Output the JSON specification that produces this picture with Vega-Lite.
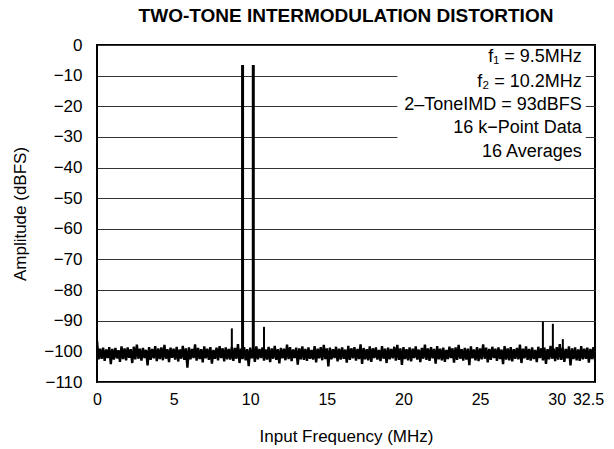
{
  "$schema": "https://vega.github.io/schema/vega-lite/v6.json",
  "width": 498,
  "height": 337,
  "autosize": {"type": "none"},
  "padding": {"left": 97, "top": 45, "right": 19, "bottom": 67},
  "background": "white",
  "config": {
    "font": "Liberation Sans",
    "view": {"stroke": "black", "strokeWidth": 2},
    "axis": {"domain": false, "ticks": false, "tickSize": 0, "labelColor": "black", "titleColor": "black", "labelFont": "Liberation Sans", "titleFont": "Liberation Sans", "titleFontWeight": "normal", "labelOverlap": false}
  },
  "title": {"text": "TWO-TONE INTERMODULATION DISTORTION", "fontSize": 19, "fontWeight": "bold", "font": "Liberation Sans", "color": "black", "anchor": "middle", "offset": 10},
  "datasets": {
    "noise": [
      {"f":0.0,"a":-96.5},{"f":0.1,"a":-102.6},{"f":0.2,"a":-99.1},{"f":0.3,"a":-102.4},{"f":0.4,"a":-98.8},{"f":0.5,"a":-103.1},{"f":0.6,"a":-99.4},{"f":0.7,"a":-102.2},{"f":0.8,"a":-98.6},{"f":0.9,"a":-104.2},
      {"f":1.0,"a":-99.2},{"f":1.1,"a":-102.7},{"f":1.2,"a":-98.9},{"f":1.3,"a":-102.3},{"f":1.4,"a":-99.6},{"f":1.5,"a":-103.4},{"f":1.6,"a":-98.4},{"f":1.7,"a":-102.5},{"f":1.8,"a":-99.0},{"f":1.9,"a":-102.9},
      {"f":2.0,"a":-98.7},{"f":2.1,"a":-102.1},{"f":2.2,"a":-99.3},{"f":2.3,"a":-103.8},{"f":2.4,"a":-98.5},{"f":2.5,"a":-102.6},{"f":2.6,"a":-97.8},{"f":2.7,"a":-102.4},{"f":2.8,"a":-99.1},{"f":2.9,"a":-103.0},
      {"f":3.0,"a":-98.9},{"f":3.1,"a":-102.2},{"f":3.2,"a":-99.5},{"f":3.3,"a":-104.6},{"f":3.4,"a":-98.6},{"f":3.5,"a":-102.8},{"f":3.6,"a":-99.2},{"f":3.7,"a":-102.3},{"f":3.8,"a":-98.3},{"f":3.9,"a":-103.2},
      {"f":4.0,"a":-99.0},{"f":4.1,"a":-102.5},{"f":4.2,"a":-98.7},{"f":4.3,"a":-102.9},{"f":4.4,"a":-97.9},{"f":4.5,"a":-102.4},{"f":4.6,"a":-99.3},{"f":4.7,"a":-103.5},{"f":4.8,"a":-98.8},{"f":4.9,"a":-102.1},
      {"f":5.0,"a":-99.1},{"f":5.1,"a":-102.7},{"f":5.2,"a":-98.5},{"f":5.3,"a":-103.3},{"f":5.4,"a":-99.4},{"f":5.5,"a":-102.4},{"f":5.6,"a":-98.2},{"f":5.7,"a":-102.8},{"f":5.8,"a":-99.0},{"f":5.9,"a":-105.3},
      {"f":6.0,"a":-98.7},{"f":6.1,"a":-102.6},{"f":6.2,"a":-99.2},{"f":6.3,"a":-102.2},{"f":6.4,"a":-97.7},{"f":6.5,"a":-103.0},{"f":6.6,"a":-98.9},{"f":6.7,"a":-102.5},{"f":6.8,"a":-99.3},{"f":6.9,"a":-103.6},
      {"f":7.0,"a":-98.4},{"f":7.1,"a":-102.3},{"f":7.2,"a":-99.1},{"f":7.3,"a":-102.8},{"f":7.4,"a":-98.6},{"f":7.5,"a":-104.0},{"f":7.6,"a":-99.5},{"f":7.7,"a":-102.4},{"f":7.8,"a":-98.8},{"f":7.9,"a":-102.9},
      {"f":8.0,"a":-98.3},{"f":8.1,"a":-102.2},{"f":8.2,"a":-99.0},{"f":8.3,"a":-103.3},{"f":8.4,"a":-98.7},{"f":8.5,"a":-102.6},{"f":8.6,"a":-99.2},{"f":8.7,"a":-102.7},{"f":8.8,"a":-98.5},{"f":8.9,"a":-103.1},
      {"f":9.0,"a":-98.9},{"f":9.1,"a":-102.4},{"f":9.2,"a":-97.6},{"f":9.3,"a":-103.8},{"f":9.4,"a":-99.1},{"f":9.5,"a":-102.5},{"f":9.6,"a":-98.6},{"f":9.7,"a":-102.9},{"f":9.8,"a":-99.3},{"f":9.9,"a":-104.8},
      {"f":10.0,"a":-98.8},{"f":10.1,"a":-102.3},{"f":10.2,"a":-99.0},{"f":10.3,"a":-103.4},{"f":10.4,"a":-98.4},{"f":10.5,"a":-102.6},{"f":10.6,"a":-99.2},{"f":10.7,"a":-102.2},{"f":10.8,"a":-98.7},{"f":10.9,"a":-103.0},
      {"f":11.0,"a":-99.4},{"f":11.1,"a":-102.7},{"f":11.2,"a":-98.5},{"f":11.3,"a":-103.5},{"f":11.4,"a":-99.0},{"f":11.5,"a":-102.4},{"f":11.6,"a":-98.2},{"f":11.7,"a":-102.8},{"f":11.8,"a":-99.3},{"f":11.9,"a":-103.9},
      {"f":12.0,"a":-98.9},{"f":12.1,"a":-102.3},{"f":12.2,"a":-99.1},{"f":12.3,"a":-102.9},{"f":12.4,"a":-97.8},{"f":12.5,"a":-102.5},{"f":12.6,"a":-98.6},{"f":12.7,"a":-103.2},{"f":12.8,"a":-99.4},{"f":12.9,"a":-102.2},
      {"f":13.0,"a":-98.8},{"f":13.1,"a":-104.3},{"f":13.2,"a":-99.0},{"f":13.3,"a":-102.6},{"f":13.4,"a":-98.4},{"f":13.5,"a":-102.8},{"f":13.6,"a":-99.2},{"f":13.7,"a":-103.1},{"f":13.8,"a":-98.7},{"f":13.9,"a":-102.4},
      {"f":14.0,"a":-99.5},{"f":14.1,"a":-102.7},{"f":14.2,"a":-98.3},{"f":14.3,"a":-103.6},{"f":14.4,"a":-99.1},{"f":14.5,"a":-102.3},{"f":14.6,"a":-98.6},{"f":14.7,"a":-102.9},{"f":14.8,"a":-97.9},{"f":14.9,"a":-102.5},
      {"f":15.0,"a":-99.0},{"f":15.1,"a":-104.9},{"f":15.2,"a":-98.8},{"f":15.3,"a":-102.6},{"f":15.4,"a":-99.3},{"f":15.5,"a":-102.2},{"f":15.6,"a":-98.5},{"f":15.7,"a":-103.3},{"f":15.8,"a":-99.1},{"f":15.9,"a":-102.7},
      {"f":16.0,"a":-98.7},{"f":16.1,"a":-102.4},{"f":16.2,"a":-99.4},{"f":16.3,"a":-103.7},{"f":16.4,"a":-98.2},{"f":16.5,"a":-102.8},{"f":16.6,"a":-99.0},{"f":16.7,"a":-102.3},{"f":16.8,"a":-98.6},{"f":16.9,"a":-103.0},
      {"f":17.0,"a":-99.2},{"f":17.1,"a":-102.5},{"f":17.2,"a":-97.7},{"f":17.3,"a":-104.1},{"f":17.4,"a":-98.9},{"f":17.5,"a":-102.6},{"f":17.6,"a":-99.3},{"f":17.7,"a":-102.9},{"f":17.8,"a":-98.4},{"f":17.9,"a":-103.4},
      {"f":18.0,"a":-99.0},{"f":18.1,"a":-102.2},{"f":18.2,"a":-98.7},{"f":18.3,"a":-102.7},{"f":18.4,"a":-99.5},{"f":18.5,"a":-103.2},{"f":18.6,"a":-98.3},{"f":18.7,"a":-102.4},{"f":18.8,"a":-99.1},{"f":18.9,"a":-103.8},
      {"f":19.0,"a":-98.8},{"f":19.1,"a":-102.6},{"f":19.2,"a":-99.2},{"f":19.3,"a":-102.3},{"f":19.4,"a":-98.5},{"f":19.5,"a":-103.0},{"f":19.6,"a":-97.9},{"f":19.7,"a":-102.8},{"f":19.8,"a":-99.0},{"f":19.9,"a":-104.4},
      {"f":20.0,"a":-98.6},{"f":20.1,"a":-102.5},{"f":20.2,"a":-99.3},{"f":20.3,"a":-102.9},{"f":20.4,"a":-98.7},{"f":20.5,"a":-103.3},{"f":20.6,"a":-99.1},{"f":20.7,"a":-102.2},{"f":20.8,"a":-98.4},{"f":20.9,"a":-102.7},
      {"f":21.0,"a":-99.4},{"f":21.1,"a":-103.5},{"f":21.2,"a":-98.9},{"f":21.3,"a":-102.4},{"f":21.4,"a":-97.8},{"f":21.5,"a":-102.8},{"f":21.6,"a":-99.0},{"f":21.7,"a":-103.1},{"f":21.8,"a":-98.6},{"f":21.9,"a":-102.3},
      {"f":22.0,"a":-99.2},{"f":22.1,"a":-104.0},{"f":22.2,"a":-98.3},{"f":22.3,"a":-102.6},{"f":22.4,"a":-99.1},{"f":22.5,"a":-102.9},{"f":22.6,"a":-98.8},{"f":22.7,"a":-103.4},{"f":22.8,"a":-99.5},{"f":22.9,"a":-102.5},
      {"f":23.0,"a":-98.5},{"f":23.1,"a":-102.2},{"f":23.2,"a":-99.0},{"f":23.3,"a":-103.7},{"f":23.4,"a":-98.7},{"f":23.5,"a":-102.8},{"f":23.6,"a":-97.9},{"f":23.7,"a":-102.4},{"f":23.8,"a":-99.3},{"f":23.9,"a":-103.0},
      {"f":24.0,"a":-98.9},{"f":24.1,"a":-102.7},{"f":24.2,"a":-99.1},{"f":24.3,"a":-104.5},{"f":24.4,"a":-98.4},{"f":24.5,"a":-102.3},{"f":24.6,"a":-99.4},{"f":24.7,"a":-102.9},{"f":24.8,"a":-98.6},{"f":24.9,"a":-103.2},
      {"f":25.0,"a":-99.0},{"f":25.1,"a":-102.6},{"f":25.2,"a":-97.7},{"f":25.3,"a":-102.4},{"f":25.4,"a":-98.8},{"f":25.5,"a":-103.6},{"f":25.6,"a":-99.2},{"f":25.7,"a":-102.8},{"f":25.8,"a":-98.5},{"f":25.9,"a":-102.2},
      {"f":26.0,"a":-99.1},{"f":26.1,"a":-103.1},{"f":26.2,"a":-98.7},{"f":26.3,"a":-102.5},{"f":26.4,"a":-99.4},{"f":26.5,"a":-104.2},{"f":26.6,"a":-98.3},{"f":26.7,"a":-102.7},{"f":26.8,"a":-99.0},{"f":26.9,"a":-102.9},
      {"f":27.0,"a":-98.6},{"f":27.1,"a":-103.3},{"f":27.2,"a":-99.3},{"f":27.3,"a":-102.4},{"f":27.4,"a":-98.9},{"f":27.5,"a":-102.6},{"f":27.6,"a":-97.8},{"f":27.7,"a":-103.8},{"f":27.8,"a":-99.1},{"f":27.9,"a":-102.3},
      {"f":28.0,"a":-98.4},{"f":28.1,"a":-102.8},{"f":28.2,"a":-99.2},{"f":28.3,"a":-103.0},{"f":28.4,"a":-98.7},{"f":28.5,"a":-102.5},{"f":28.6,"a":-99.5},{"f":28.7,"a":-103.5},{"f":28.8,"a":-98.5},{"f":28.9,"a":-102.2},
      {"f":29.0,"a":-99.0},{"f":29.1,"a":-102.9},{"f":29.2,"a":-98.8},{"f":29.3,"a":-104.1},{"f":29.4,"a":-99.3},{"f":29.5,"a":-102.6},{"f":29.6,"a":-98.2},{"f":29.7,"a":-102.4},{"f":29.8,"a":-99.1},{"f":29.9,"a":-103.2},
      {"f":30.0,"a":-98.6},{"f":30.1,"a":-102.7},{"f":30.2,"a":-97.6},{"f":30.3,"a":-102.8},{"f":30.4,"a":-98.9},{"f":30.5,"a":-103.4},{"f":30.6,"a":-99.2},{"f":30.7,"a":-102.3},{"f":30.8,"a":-98.4},{"f":30.9,"a":-104.6},
      {"f":31.0,"a":-99.0},{"f":31.1,"a":-102.5},{"f":31.2,"a":-98.7},{"f":31.3,"a":-102.9},{"f":31.4,"a":-99.4},{"f":31.5,"a":-103.1},{"f":31.6,"a":-98.3},{"f":31.7,"a":-102.6},{"f":31.8,"a":-99.1},{"f":31.9,"a":-102.4},
      {"f":32.0,"a":-98.8},{"f":32.1,"a":-103.7},{"f":32.2,"a":-99.2},{"f":32.3,"a":-102.5},{"f":32.4,"a":-98.6},{"f":32.5,"a":-102.9}
    ],
    "tones": [
      {"f":9.5,"a":-6.5,"a2":-100.5},
      {"f":10.2,"a":-6.5,"a2":-100.5}
    ],
    "spurs": [
      {"f":8.8,"a":-92.5,"a2":-100.5},
      {"f":10.9,"a":-92.0,"a2":-100.5},
      {"f":29.1,"a":-90.3,"a2":-100.5},
      {"f":29.75,"a":-91.0,"a2":-100.5},
      {"f":30.4,"a":-96.0,"a2":-100.5}
    ],
    "box": [
      {"f":19.6,"f2":31.9,"a":-0.8,"a2":-37}
    ],
    "notes": [
      {"label":"f₁ = 9.5MHz","f":31.64,"a":-3.8},
      {"label":"f₂ = 10.2MHz","f":31.64,"a":-12.0},
      {"label":"2–ToneIMD = 93dBFS","f":31.64,"a":-19.6},
      {"label":"16 k−Point Data","f":31.64,"a":-27.2},
      {"label":"16 Averages","f":31.64,"a":-34.8}
    ]
  },
  "encoding": {
    "x": {"field": "f", "type": "quantitative",
      "scale": {"domain": [0, 32.5], "nice": false, "zero": false},
      "axis": {"title": "Input Frequency (MHz)", "values": [0, 5, 10, 15, 20, 25, 30, 32.5], "format": ".4~g", "grid": false,
        "labelFontSize": 16, "titleFontSize": 17, "labelPadding": 9, "titlePadding": 21,
        "labelAlign": "center",
        "labelOffset": {"expr": "datum.value == 32.5 ? -7 : 0"},
        "labelFlush": false, "labelOverlap": false}},
    "y": {"field": "a", "type": "quantitative",
      "scale": {"domain": [-110, 0], "nice": false, "zero": false},
      "axis": {"title": "Amplitude (dBFS)", "values": [0, -10, -20, -30, -40, -50, -60, -70, -80, -90, -100, -110], "format": ".4~g",
        "grid": true, "gridColor": "#333", "gridWidth": 1, "gridOpacity": 1,
        "labelFontSize": 17, "titleFontSize": 17, "labelPadding": 15, "titlePadding": 14, "labelOverlap": false, "labelFlush": false}}
  },
  "layer": [
    {
      "data": {"name": "noise"},
      "mark": {"type": "line", "color": "black", "strokeWidth": 2.4, "clip": true}
    },
    {
      "data": {"name": "spurs"},
      "mark": {"type": "rule", "color": "black", "strokeWidth": 2},
      "encoding": {"y2": {"field": "a2"}}
    },
    {
      "data": {"name": "tones"},
      "mark": {"type": "rule", "color": "black", "strokeWidth": 3},
      "encoding": {"y2": {"field": "a2"}}
    },
    {
      "data": {"name": "box"},
      "mark": {"type": "rect", "color": "white", "opacity": 1},
      "encoding": {"x2": {"field": "f2"}, "y2": {"field": "a2"}}
    },
    {
      "data": {"name": "notes"},
      "mark": {"type": "text", "align": "right", "baseline": "middle", "fontSize": 18, "font": "Liberation Sans", "color": "black"},
      "encoding": {"text": {"field": "label"}}
    }
  ]
}
